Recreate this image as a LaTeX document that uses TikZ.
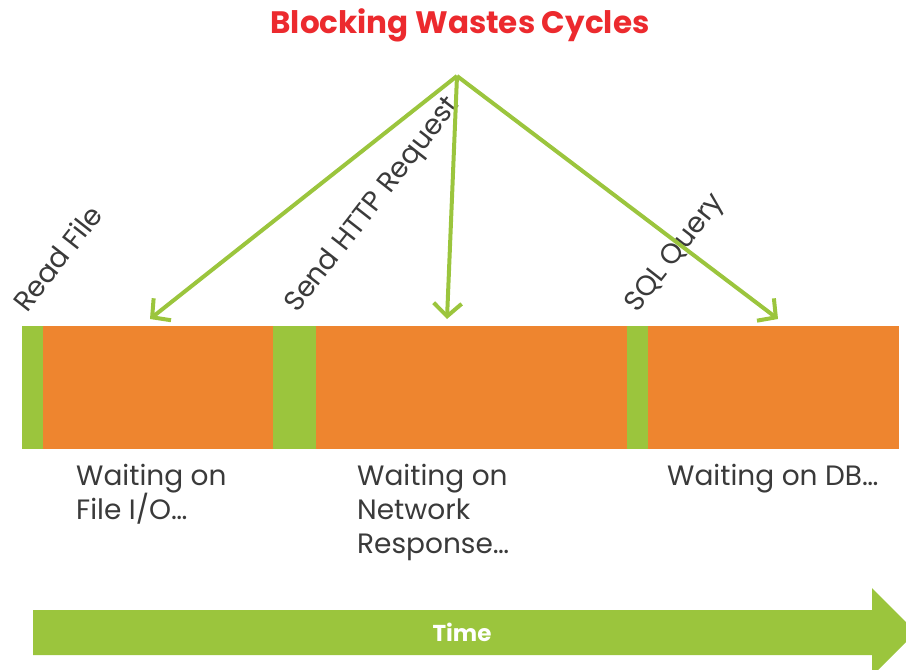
\documentclass[tikz,border=0pt]{standalone}
\usepackage{fontspec}
\setmainfont{Poppins}
\usetikzlibrary{arrows.meta}
\definecolor{busyorange}{HTML}{EE852F}
\definecolor{cpugreen}{HTML}{9BC53D}
\definecolor{titlered}{HTML}{EC2A2E}
\definecolor{inktext}{HTML}{3A3A3A}
\tikzset{
  seg/.style={anchor=north west, inner sep=0pt, outer sep=0pt, minimum height=123pt},
  busy/.style={seg, fill=busyorange},
  work/.style={seg, fill=cpugreen},
  flow/.style={draw=cpugreen, line width=4pt, -{Straight Barb[length=13pt, width=28pt, line width=4pt]}},
  calllabel/.style={anchor=base west, rotate=52, inner sep=0pt, text=inktext, font=\fontsize{28}{32}\selectfont},
  waitlabel/.style={anchor=north west, inner sep=0pt, align=left, text=inktext, font=\fontsize{28}{34}\selectfont},
}
\begin{document}
\begin{tikzpicture}[x=1pt, y=-1pt]
\useasboundingbox (0,0) rectangle (906,670);
\clip (0,0) rectangle (906,670);

% heading
\node[text=titlered, font=\fontsize{31}{36}\selectfont\bfseries] (title) at (460,25) {Blocking Wastes Cycles};

% timeline: short green bursts of work, long orange waits
\node[work, minimum width=21pt]  (w1) at (22,326)  {};
\node[busy, minimum width=230pt] (b1) at (43,326)  {};
\node[work, minimum width=43pt]  (w2) at (273,326) {};
\node[busy, minimum width=311pt] (b2) at (316,326) {};
\node[work, minimum width=21pt]  (w3) at (627,326) {};
\node[busy, minimum width=251pt] (b3) at (648,326) {};

% operations that start each wait
\node[calllabel] (rf)  at (27,314)  {Read File};
\node[calllabel] (http) at (297,314) {Send HTTP Request};
\node[calllabel] (sql) at (637,314) {SQL Query};

% arrows from the heading down onto the waits
\coordinate (src) at (457,76);
\coordinate (t1) at (150,319);
\coordinate (t2) at (447,319);
\coordinate (t3) at (778,319);
\draw[flow] (src) -- (t1);
\draw[flow] (src) -- (t2);
\draw[flow] (src) -- (t3);

% what each wait is for
\node[waitlabel] (l1) at (76,464)  {Waiting on\\File I/O…};
\node[waitlabel] (l2) at (357,464) {Waiting on\\Network\\Response…};
\node[waitlabel] (l3) at (667,464) {Waiting on DB…};

% time axis
\fill[cpugreen] (33,610) -- (872,610) -- (872,588) -- (916,632) -- (872,676)
  -- (872,655) -- (33,655) -- cycle;
\node[text=white, font=\fontsize{23}{26}\selectfont\bfseries] (time) at (462,632) {Time};
\end{tikzpicture}
\end{document}
